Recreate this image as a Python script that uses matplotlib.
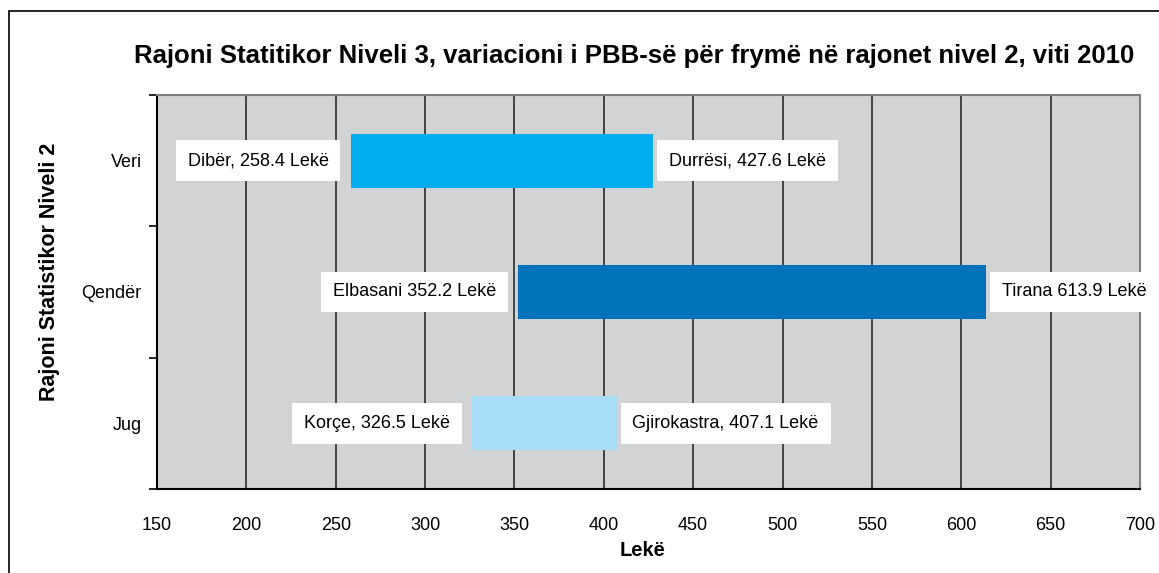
import matplotlib
matplotlib.use("Agg")
import matplotlib.pyplot as plt
from matplotlib.patches import Rectangle

regions = ["Veri", "Qendër", "Jug"]
low_names = ["Dibër, 258.4 Lekë", "Elbasani 352.2 Lekë", "Korçe, 326.5 Lekë"]
high_names = ["Durrësi, 427.6 Lekë", "Tirana 613.9 Lekë", "Gjirokastra, 407.1 Lekë"]
low_vals = [258.4, 352.2, 326.5]
high_vals = [427.6, 613.9, 407.1]
colors = ["#00aeef", "#0072bc", "#a6dcf6"]
xticks = list(range(150, 701, 50))

FONT = ["Liberation Sans", "DejaVu Sans"]

fig = plt.figure(figsize=(11.59, 5.73), dpi=100)
ax = fig.add_axes([157/1159, 1-489/573, 983/1159, 394/573])
ax.set_facecolor("#d2d3d5")

ypos = [2, 1, 0]
for y, lo, hi, c in zip(ypos, low_vals, high_vals, colors):
    ax.barh(y, hi - lo, left=lo, height=0.41, color=c, zorder=3)

# white label boxes either side of each bar
box = dict(boxstyle="square,pad=0.66", fc="white", ec="none")
for y, lo, hi, ln, hn in zip(ypos, low_vals, high_vals, low_names, high_names):
    ax.annotate(ln, (lo, y), xytext=(-16, 0), textcoords="offset points",
                ha="right", va="center", fontsize=13, family=FONT, bbox=box, zorder=4)
    ax.annotate(hn, (hi, y), xytext=(11.5, 0), textcoords="offset points",
                ha="left", va="center", fontsize=13, family=FONT, bbox=box, zorder=4)

ax.set_xlim(150, 700)
ax.set_ylim(-0.5, 2.5)
ax.set_xticks(xticks)
ax.set_xticklabels([str(t) for t in xticks], family=FONT, fontsize=13)
ax.xaxis.grid(True, color="#2a2a2a", lw=1.2, zorder=1)
ax.set_axisbelow(True)
ax.tick_params(axis="x", length=0, pad=20)
ax.set_yticks([-0.5, 0.5, 1.5, 2.5])
ax.set_yticklabels([])
ax.set_yticks(ypos, minor=True)
ax.set_yticklabels(regions, minor=True, family=FONT, fontsize=13)
ax.tick_params(axis="y", which="major", length=6, width=1.2, direction="out")
ax.tick_params(axis="y", which="minor", length=0, pad=11)

for s in ["left", "bottom"]:
    ax.spines[s].set_color("black")
    ax.spines[s].set_linewidth(1.5)
for s in ["top", "right"]:
    ax.spines[s].set_color("#808080")
    ax.spines[s].set_linewidth(1.5)

fig.text(643/1159, 1-550/573, "Lekë", ha="center", va="center",
         family=FONT, fontsize=14.5, fontweight="bold")
fig.text(50/1159, 1-272/573, "Rajoni Statistikor Niveli 2", rotation=90, ha="center",
         va="center", family=FONT, fontsize=15.5, fontweight="bold")
fig.text(634/1159, 1-56/573,
         "Rajoni Statitikor Niveli 3, variacioni i PBB-së për frymë në rajonet nivel 2, viti 2010",
         ha="center", va="center", family=FONT, fontsize=18.5, fontweight="bold")

fig.patches.append(Rectangle((9/1159, -0.5), 2, 0.5 + 1 - 11/573, transform=fig.transFigure,
                             fill=False, ec="black", lw=1.2))

fig.savefig("out.png", dpi=100)
